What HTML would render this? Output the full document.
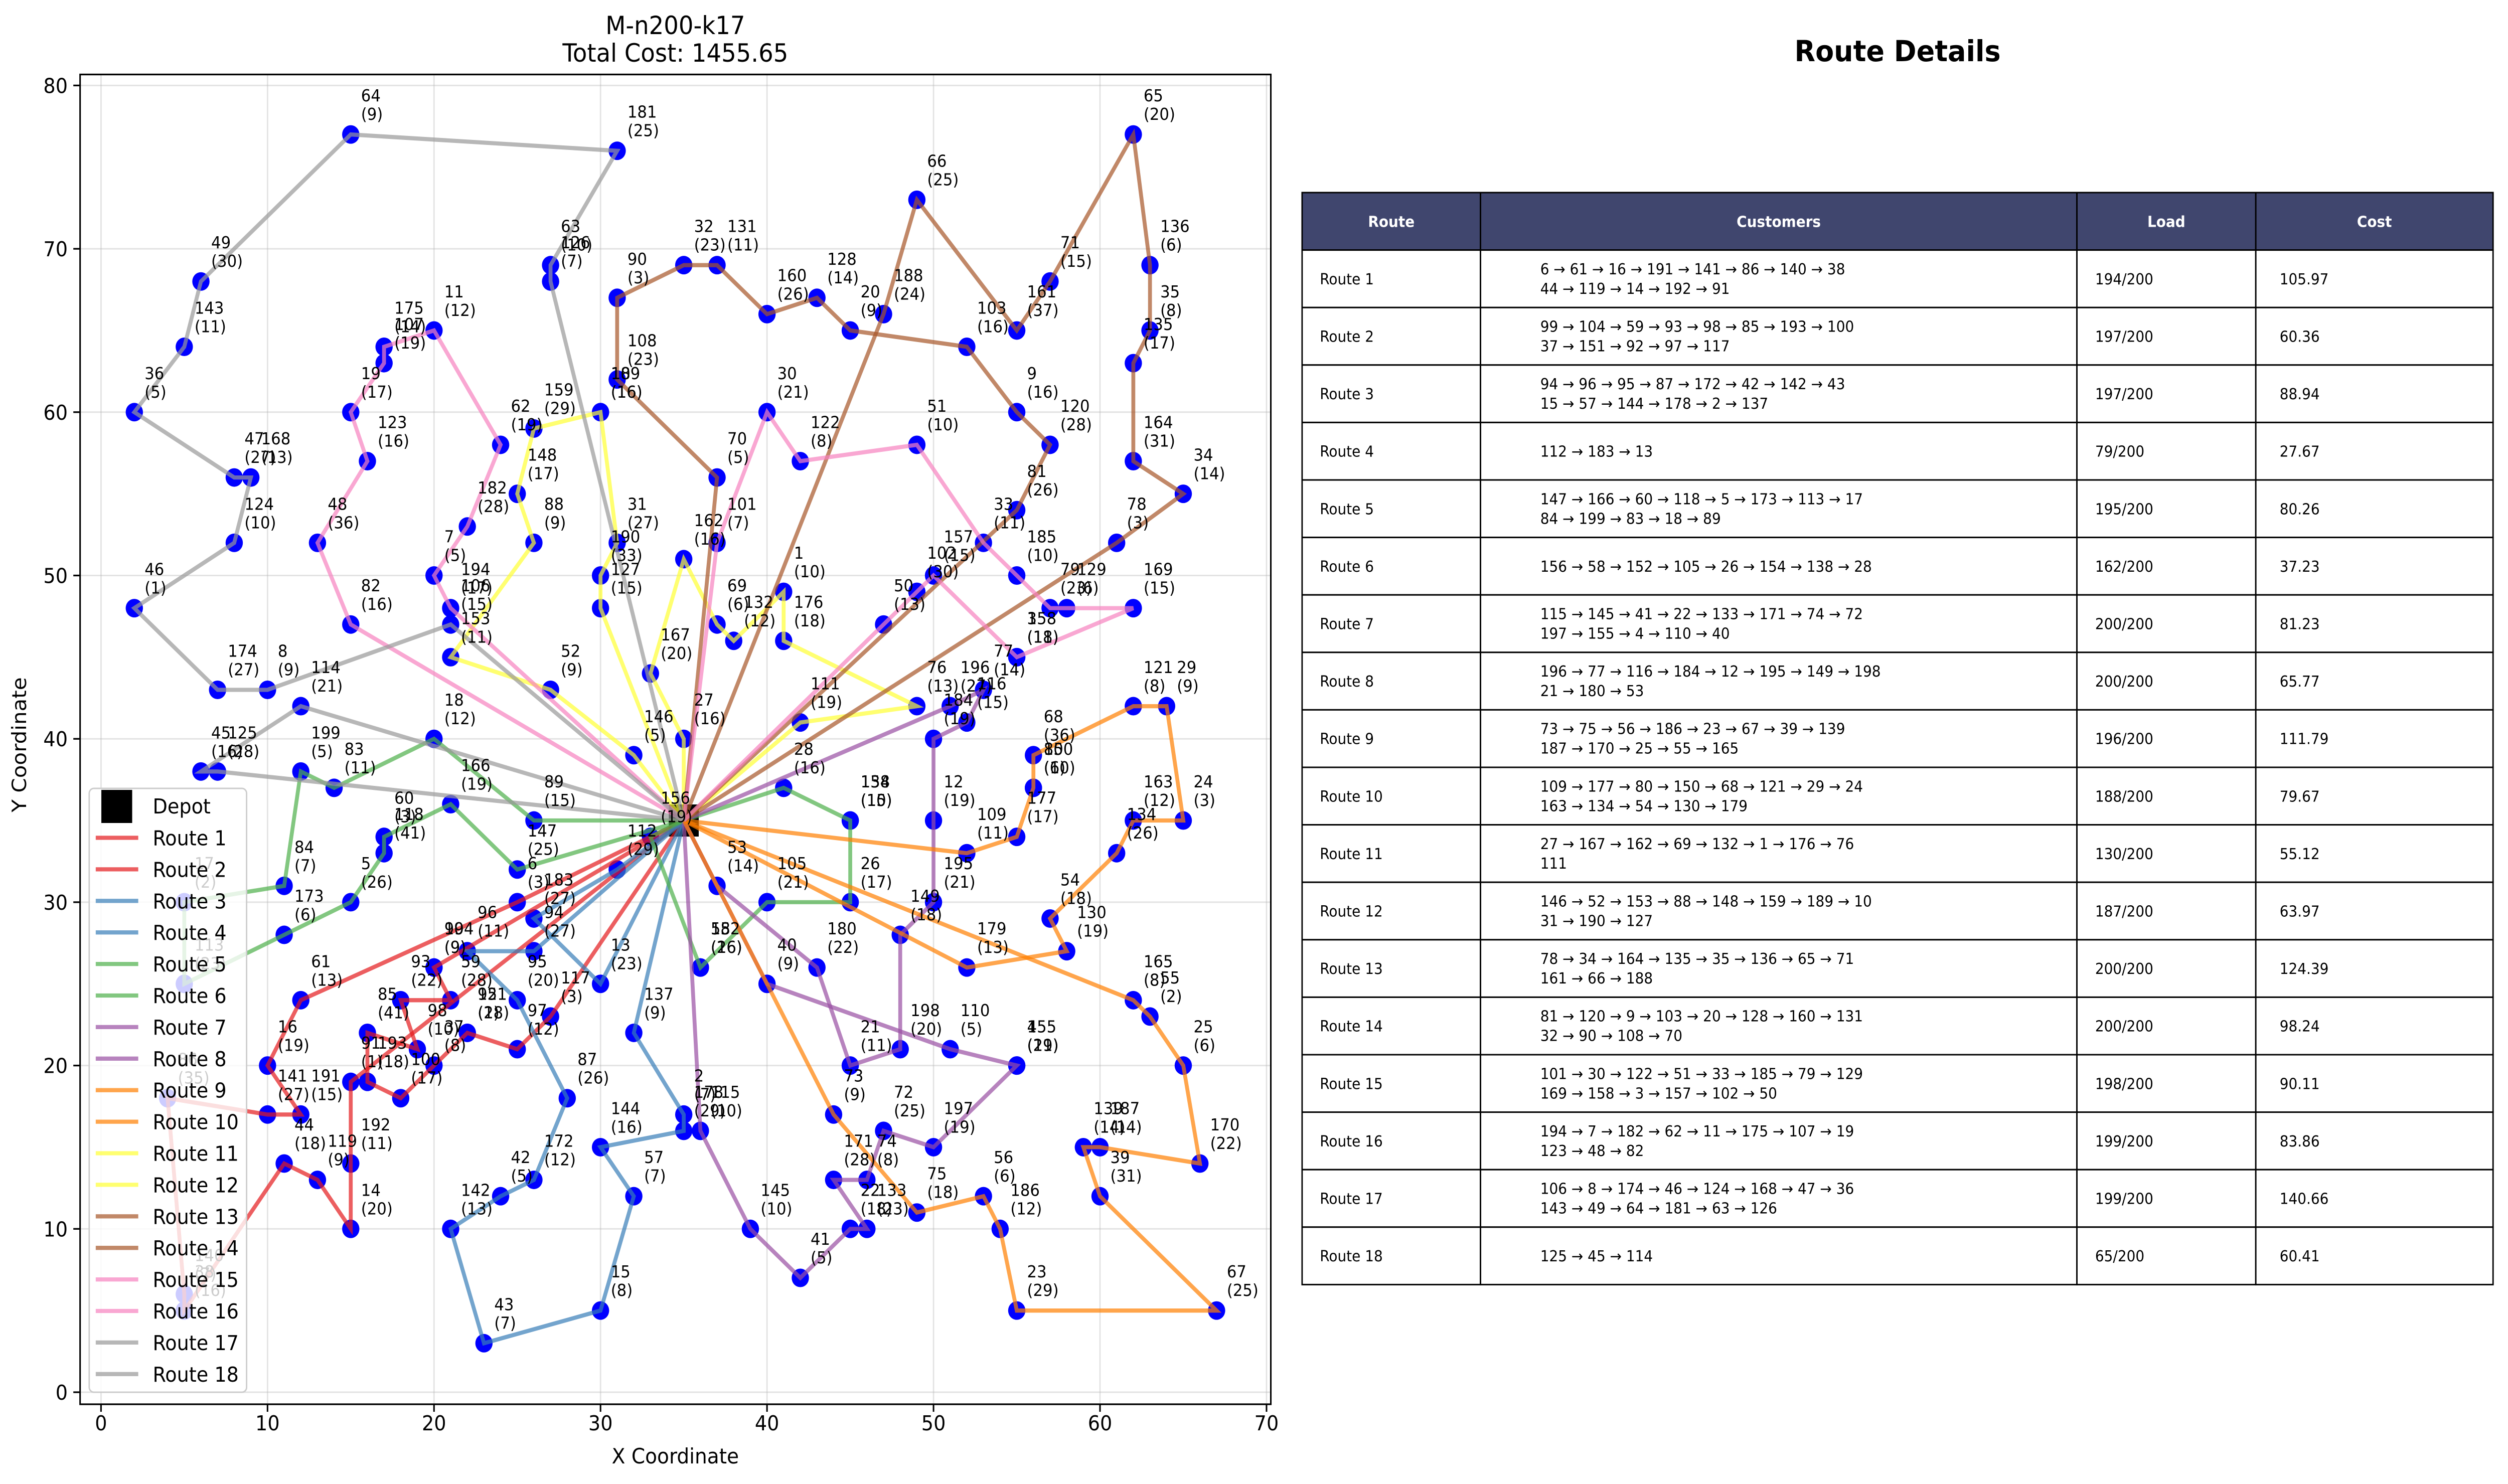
<!DOCTYPE html>
<html>
<head>
<meta charset="utf-8">
<style>
html,body{margin:0;padding:0;background:#fff;overflow:hidden;width:100vw;height:100vh;}
svg{display:block;width:100vw;height:100vh;}
text{font-family:"DejaVu Sans","Liberation Sans",sans-serif;}
</style>
</head>
<body>
<svg id="fig" viewBox="0 0 5370 2959" preserveAspectRatio="none" xmlns="http://www.w3.org/2000/svg">
  <rect x="0" y="0" width="5370" height="2959" fill="#ffffff"/>
  <text x="1446" y="68" font-size="50" text-anchor="middle">M-n200-k17</text>
  <text x="1446" y="123" font-size="50" text-anchor="middle">Total Cost: 1455.65</text>
  <text x="1446" y="2918" font-size="42" text-anchor="middle">X Coordinate</text>
  <text x="56" y="1485" font-size="42" text-anchor="middle" transform="rotate(-90 56 1485)">Y Coordinate</text>
  <g id="grid"></g>
  <g id="points"></g>
  <rect id="depot" fill="#000"/>
  <g id="routes"></g>
  <g id="labels"></g>
  <rect x="171.5" y="148.5" width="2549.5" height="2651.5" fill="none" stroke="#000" stroke-width="3.3"/>
  <g id="ticks"></g>
  <g id="legend"></g>
  <text x="4063" y="122" font-size="58" font-weight="bold" text-anchor="middle">Route Details</text>
  <g id="table"></g>
</svg>
<script>
const depotX = 35;
const depotY = 35;
const customerIds = [6,61,16,191,141,86,140,38,44,119,14,192,91,
 99,104,59,93,98,85,193,100,37,151,92,97,117,
 94,96,95,87,172,42,142,43,15,57,144,178,2,137,
 112,183,13,
 147,166,60,118,5,173,113,17,84,199,83,18,89,
 156,58,152,105,26,154,138,28,
 115,145,41,22,133,171,74,72,197,155,4,110,40,
 196,77,116,184,12,195,149,198,21,180,53,
 73,75,56,186,23,67,39,139,187,170,25,55,165,
 109,177,80,150,68,121,29,24,163,134,54,130,179,
 27,167,162,69,132,1,176,76,111,
 146,52,153,88,148,159,189,10,31,190,127,
 78,34,164,135,35,136,65,71,161,66,188,
 81,120,9,103,20,128,160,131,32,90,108,70,
 101,30,122,51,33,185,79,129,169,158,3,157,102,50,
 194,7,182,62,11,175,107,19,123,48,82,
 106,8,174,46,124,168,47,36,143,49,64,181,63,126,
 125,45,114];
const customerX = [25,12,10,12,10,4,5,5,11,13,15,15,15,
 20,20,21,18,19,16,16,18,20,22,22,25,27,
 26,22,25,28,26,24,21,23,30,32,30,35,35,32,
 31,26,30,
 25,21,17,17,15,11,5,5,11,12,14,20,26,
 33,36,36,40,45,45,45,41,
 36,39,42,45,46,44,46,47,50,55,55,51,40,
 51,53,52,50,50,50,48,48,45,43,37,
 44,49,53,54,55,67,60,59,60,66,65,63,62,
 52,55,56,56,56,62,64,65,62,61,57,58,52,
 35,33,35,37,38,41,41,49,42,
 32,27,21,26,25,26,30,30,31,30,30,
 61,65,62,62,63,63,62,57,55,49,47,
 55,57,55,52,45,43,40,37,35,31,31,37,
 37,40,42,49,53,55,57,58,62,55,55,50,49,47,
 21,20,22,24,20,17,17,15,16,13,15,
 21,10,7,2,8,9,8,2,5,6,15,31,27,27,
 7,6,12];
const customerY = [30,24,20,17,17,18,6,5,14,13,10,14,19,
 26,26,24,24,21,22,19,18,20,22,22,21,23,
 27,27,24,18,13,12,10,3,5,12,15,16,17,22,
 32,29,25,
 32,36,34,33,30,28,25,30,31,38,37,40,35,
 34,26,26,30,30,35,35,37,
 16,10,7,10,10,13,13,16,15,20,20,21,25,
 42,43,41,40,35,30,28,21,20,26,31,
 17,11,12,10,5,5,12,15,15,14,20,23,24,
 33,34,37,37,39,42,42,35,35,33,29,27,26,
 40,44,51,47,46,49,46,42,41,
 39,43,45,52,55,59,60,60,52,50,48,
 52,55,57,63,65,69,77,68,65,73,66,
 54,58,60,64,65,67,66,69,69,67,62,56,
 52,60,57,58,52,50,48,48,48,45,45,50,49,47,
 48,50,53,58,65,64,63,60,57,52,47,
 47,43,43,48,52,56,56,60,64,68,77,76,69,68,
 38,38,42];
const customerDemand = [3,13,19,15,27,35,7,16,18,9,20,11,1,
 9,9,28,22,10,41,18,17,8,18,2,12,3,
 27,11,20,26,12,5,13,7,8,7,16,29,7,9,
 29,27,23,
 25,19,3,41,26,6,23,2,7,5,11,12,15,
 19,16,26,21,17,10,15,16,
 10,10,5,18,23,28,8,25,19,21,19,5,9,
 27,14,15,19,19,21,18,20,11,22,14,
 9,18,6,12,29,25,31,14,14,22,6,2,8,
 11,17,6,10,36,8,9,3,12,26,18,19,13,
 16,20,16,6,12,10,18,13,19,
 5,9,11,9,17,29,16,16,27,33,15,
 3,14,31,17,8,6,20,15,37,25,24,
 26,28,16,16,9,14,26,11,23,3,23,5,
 7,21,8,10,11,10,23,6,15,18,11,15,30,13,
 17,5,28,19,12,14,19,17,16,36,16,
 15,9,27,1,10,13,27,5,11,30,9,25,10,7,
 28,16,21];
const route1 = [6,61,16,191,141,86,140,38,44,119,14,192,91];
const route2 = [99,104,59,93,98,85,193,100,37,151,92,97,117];
const route3 = [94,96,95,87,172,42,142,43,15,57,144,178,2,137];
const route4 = [112,183,13];
const route5 = [147,166,60,118,5,173,113,17,84,199,83,18,89];
const route6 = [156,58,152,105,26,154,138,28];
const route7 = [115,145,41,22,133,171,74,72,197,155,4,110,40];
const route8 = [196,77,116,184,12,195,149,198,21,180,53];
const route9 = [73,75,56,186,23,67,39,139,187,170,25,55,165];
const route10 = [109,177,80,150,68,121,29,24,163,134,54,130,179];
const route11 = [27,167,162,69,132,1,176,76,111];
const route12 = [146,52,153,88,148,159,189,10,31,190,127];
const route13 = [78,34,164,135,35,136,65,71,161,66,188];
const route14 = [81,120,9,103,20,128,160,131,32,90,108,70];
const route15 = [101,30,122,51,33,185,79,129,169,158,3,157,102,50];
const route16 = [194,7,182,62,11,175,107,19,123,48,82];
const route17 = [106,8,174,46,124,168,47,36,143,49,64,181,63,126];
const route18 = [125,45,114];
const routeSequences = [route1,route2,route3,route4,route5,route6,route7,route8,route9,route10,route11,route12,route13,route14,route15,route16,route17,route18];
const routeLoads = [194,197,197,79,195,162,200,200,196,188,130,187,200,200,198,199,199,65];
const routeCosts = ["105.97","60.36","88.94","27.67","80.26","37.23","81.23","65.77","111.79","79.67","55.12","63.97","124.39","98.24","90.11","83.86","140.66","60.41"];
const vehicleCapacity = 200;
const xTicks = [0,10,20,30,40,50,60,70];
const yTicks = [0,10,20,30,40,50,60,70,80];

const palette = ["#e41a1c","#377eb8","#4daf4a","#984ea3","#ff7f00","#ffff33","#a65628","#f781bf","#999999"];
const NS = "http://www.w3.org/2000/svg";
function xs(v){ return 216.3 + 35.65*v; }
function ys(v){ return 2776 - 32.57*v; }
function mk(tag, attrs, parent){
  const e = document.createElementNS(NS, tag);
  for (const k in attrs) e.setAttribute(k, attrs[k]);
  parent.appendChild(e);
  return e;
}
function pos(id){ const i = customerIds.indexOf(id); return [customerX[i], customerY[i]]; }

const grid = document.getElementById('grid');
xTicks.forEach(t => {
  const l = mk('line', {x1:xs(t), x2:xs(t), y1:148.5, y2:2800, stroke:'#b0b0b0', 'stroke-opacity':0.35, 'stroke-width':3}, grid);
  
  
});
yTicks.forEach(t => {
  const l = mk('line', {x1:171.5, x2:2721, y1:ys(t), y2:ys(t), stroke:'#b0b0b0', 'stroke-opacity':0.35, 'stroke-width':3}, grid);
  
  
});

const ticks = document.getElementById('ticks');
xTicks.forEach(t => {
  const m = mk('line', {x1:xs(t), x2:xs(t), y1:2800, y2:2815, stroke:'#000', 'stroke-width':3.3}, ticks);
  
  
  const tx = mk('text', {x:xs(t), y:2852, 'font-size':41, 'text-anchor':'middle'}, ticks);
  tx.textContent = t;
  
  
});
yTicks.forEach(t => {
  const m = mk('line', {x1:157, x2:171.5, y1:ys(t), y2:ys(t), stroke:'#000', 'stroke-width':3.3}, ticks);
  
  
  const tx = mk('text', {x:145, y:ys(t)+15, 'font-size':41, 'text-anchor':'end'}, ticks);
  tx.textContent = t;
  
  
});

const pts = document.getElementById('points');
customerIds.forEach((id, i) => {
  const c = mk('circle', {cx:xs(customerX[i]), cy:ys(customerY[i]), r:18.5, fill:'#0000ff'}, pts);
  
  
});

const dep = document.getElementById('depot');
dep.setAttribute('x', xs(depotX)-32);
dep.setAttribute('y', ys(depotY)-32);
dep.setAttribute('width', 64);
dep.setAttribute('height', 64);

const rg = document.getElementById('routes');
routeSequences.forEach((seq, r) => {
  const coords = [[depotX, depotY]].concat(seq.map(pos)).concat([[depotX, depotY]]);
  const d = coords.map((p, k) => (k ? 'L' : 'M') + xs(p[0]).toFixed(1) + ' ' + ys(p[1]).toFixed(1)).join(' ');
  const path = mk('path', {d:d, fill:'none', stroke:palette[Math.floor(r/2)], 'stroke-opacity':0.7, 'stroke-width':8.3, 'stroke-linejoin':'miter'}, rg);
  
  
});

const lg = document.getElementById('labels');
customerIds.forEach((id, i) => {
  const x = xs(customerX[i]) + 22, y = ys(customerY[i]);
  const t = mk('text', {x:x, y:y-66, 'font-size':33}, lg);
  
  
  const a = mk('tspan', {x:x, y:y-66}, t); a.textContent = id;
  const b = mk('tspan', {x:x, y:y-29}, t); b.textContent = '(' + customerDemand[i] + ')';
});

const leg = document.getElementById('legend');
const box = mk('rect', {x:191, y:1572, width:337, height:1204, rx:10, fill:'#ffffff', 'fill-opacity':0.8, stroke:'#cccccc', 'stroke-width':3}, leg);


const dsq = mk('rect', {x:217, y:1575, width:66, height:66, fill:'#000'}, leg);


const dtx = mk('text', {x:327, y:1622, 'font-size':41}, leg);
dtx.textContent = 'Depot';


routeSequences.forEach((seq, r) => {
  const cy = 1670.5 + r*62.9;
  const ln = mk('line', {x1:205, x2:296, y1:cy, y2:cy, stroke:palette[Math.floor(r/2)], 'stroke-opacity':0.7, 'stroke-width':8.3}, leg);
  
  
  const tx = mk('text', {x:327, y:cy+15, 'font-size':41}, leg);
  tx.textContent = 'Route ' + (r+1);
  
  
});

const tb = document.getElementById('table');
const colEdges = [2788,3170,4447,4830,5338];
const top0 = 384, rowH = 114.6;
const headers = ['Route','Customers','Load','Cost'];
headers.forEach((h, c) => {
  const r = mk('rect', {x:colEdges[c], y:top0, width:colEdges[c+1]-colEdges[c], height:rowH, fill:'#40466e', stroke:'#000', 'stroke-width':3}, tb);
  
  
  const t = mk('text', {x:(colEdges[c]+colEdges[c+1])/2, y:top0+rowH/2+11, 'font-size':30, 'font-weight':'bold', fill:'#ffffff', 'text-anchor':'middle'}, tb);
  t.textContent = h;
  
  
});
routeSequences.forEach((seq, r) => {
  const y0 = top0 + rowH*(r+1), cy = y0 + rowH/2;
  for (let c = 0; c < 4; c++) {
    const cell = mk('rect', {x:colEdges[c], y:y0, width:colEdges[c+1]-colEdges[c], height:rowH, fill:'#ffffff', stroke:'#000', 'stroke-width':3}, tb);
    
    
  }
  const t1 = mk('text', {x:2826, y:cy+11, 'font-size':30}, tb);
  t1.textContent = 'Route ' + (r+1);
  
  
  const lines = [];
  for (let k = 0; k < seq.length; k += 8) lines.push(seq.slice(k, k+8).join(' \u2192 '));
  lines.forEach((s, k) => {
    const yy = lines.length === 1 ? cy+11 : cy - 9 + k*39;
    const t = mk('text', {x:3298, y:yy, 'font-size':30}, tb);
    t.textContent = s;
    
    
  });
  const t3 = mk('text', {x:4486, y:cy+11, 'font-size':30}, tb);
  t3.textContent = routeLoads[r] + '/' + vehicleCapacity;
  
  
  const t4 = mk('text', {x:4881, y:cy+11, 'font-size':30}, tb);
  t4.textContent = routeCosts[r];
  
  
});
</script>
</body>
</html>
